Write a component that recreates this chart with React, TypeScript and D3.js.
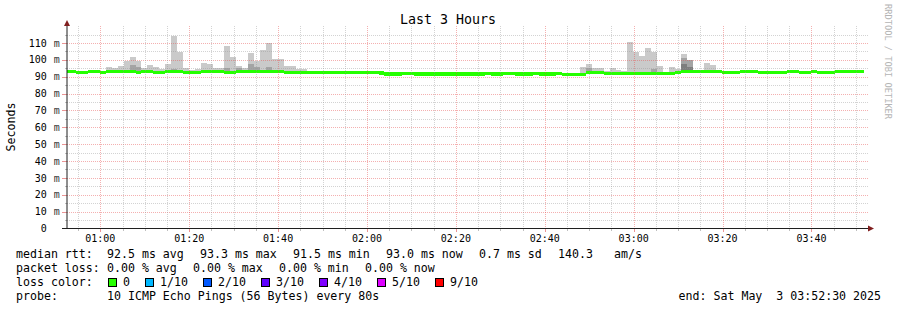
import React from "react";
import * as d3 from "d3";

// ---------- data ----------
const chartTitle = "Last 3 Hours";
const yAxisTitle = "Seconds";
const watermark = "RRDTOOL / TOBI OETIKER";
const startTime = new Date(2025, 4, 3, 0, 52, 30);
const endTime = new Date(2025, 4, 3, 3, 52, 30);
const stepSeconds = 80;
const stepPhase = 0.43;

// median rtt (ms) per 80 s step
const medianMs: (number | null)[] = [
  93.2, 93.2, 92.7, 92.7, 93.2, 93.2, 92.7, 93.2, 93.2, 93.2,
  93.2, 93.2, 92.7, 93.2, 93.2, 92.7, 92.7, 93.2, 93.2, 93.2,
  92.7, 92.7, 92.7, 93.2, 93.2, 93.2, 93.2, 92.7, 92.7, 93.2,
  93.2, 93.2, 93.2, 93.2, 93.2, 93.2, 93.2, 92.7, 92.7, 92.7,
  92.7, 92.7, 92.7, 92.7, 92.7, 92.7, 92.7, 92.7, 92.7, 92.7,
  92.7, 92.7, 92.7, 92.2, 91.6, 91.6, 91.6, 91.9, 91.9, 91.6,
  91.6, 91.6, 91.6, 91.6, 91.6, 91.6, 91.6, 91.6, 91.6, 91.6,
  91.6, 91.9, 91.6, 91.6, 91.9, 91.9, 91.6, 91.6, 91.6, 91.9,
  91.6, 91.6, 91.6, 91.9, 91.5, 91.5, 91.5, 91.5, 92.3, 92.3,
  92.3, 91.7, 91.7, 91.7, 91.7, 91.7, 91.7, 91.7, 91.7, 91.7,
  91.7, 91.7, 91.7, 92.5, 93.2, 93.2, 93.2, 93.2, 93.2, 93.2,
  93.2, 92.7, 92.7, 92.7, 93.2, 93.2, 93.2, 92.7, 92.7, 92.7,
  92.7, 92.7, 93.2, 93.2, 92.7, 92.7, 93.2, 92.7, 92.7, 92.7,
  93.2, 93.0, 93.0, 93.0, 93.0, null,
];

// highest ping per step (outer smoke), ms
const smokeMaxMs: (number | null)[] = [
  93.9, 93.9, 93.4, 93.4, 93.9, 93.9, 93.4, 95.6, 95.0, 96.4,
  99.3, 101.6, 99.3, 95.2, 97.0, 95.8, 94.6, 97.6, 113.9, 104.7,
  95.2, 94.2, 94.4, 98.2, 97.6, 95.2, 95.2, 108.1, 101.7, 96.4,
  95.2, 104.1, 99.2, 106.1, 110.0, 100.2, 100.2, 96.4, 96.4, 94.8,
  94.4, 93.4, 93.4, 93.4, 93.4, 93.4, 93.4, 93.4, 93.4, 93.4,
  93.4, 93.4, 93.4, 92.9, 92.3, 92.3, 92.3, 92.3, 92.3, 92.3,
  92.3, 92.3, 92.3, 92.3, 92.3, 92.3, 92.3, 92.3, 92.3, 92.3,
  92.3, 92.3, 92.3, 92.3, 92.3, 92.3, 92.3, 92.3, 92.3, 92.3,
  92.3, 92.3, 92.3, 92.3, 92.3, 92.3, 92.3, 95.6, 97.4, 95.0,
  95.0, 93.5, 95.0, 94.1, 93.3, 110.4, 104.6, 102.1, 106.9, 104.6,
  96.2, 93.0, 95.6, 94.6, 103.5, 99.8, 93.9, 93.9, 98.0, 96.8,
  93.9, 93.4, 93.4, 93.4, 93.4, 93.4, 93.4, 93.4, 93.4, 93.4,
  93.4, 93.4, 93.4, 93.4, 93.4, 93.4, 93.4, 93.4, 93.4, 93.4,
  93.4, 93.4, 93.4, 93.4, 93.4, null,
];

// inner smoke layers (only steps where they show above the median band)
const smokeMidSteps = [11, 12, 18, 27, 29, 31, 32, 34, 88, 99, 104, 105];
const smokeMidMs = [96.8, 95.6, 94.6, 95.0, 95.0, 97.4, 95.6, 95.6, 95.2, 94.6, 100.9, 99.8];
const smokeDarkSteps = [104, 105];
const smokeDarkMs = [97.4, 95.5];

const yTickValues = [0, 10, 20, 30, 40, 50, 60, 70, 80, 90, 100, 110];
const xTickLabels = ["01:00", "01:20", "01:40", "02:00", "02:20", "02:40", "03:00", "03:20", "03:40"];

const medianStats = ["92.5 ms avg", "93.3 ms max", "91.5 ms min", "93.0 ms now", "0.7 ms sd", "140.3", "am/s"];
const lossStats = ["0.00 % avg", "0.00 % max", "0.00 % min", "0.00 % now"];
const lossLabels = ["0", "1/10", "2/10", "3/10", "4/10", "5/10", "9/10"];
const lossColors = ["#26ff00", "#00b8ff", "#0059ff", "#5e00ff", "#7e00ff", "#dd00ff", "#ff0000"];
const probeText = "10 ICMP Echo Pings (56 Bytes) every 80s";
const endText = "end: Sat May  3 03:52:30 2025";

// ---------- layout ----------
const W = 897;
const H = 310;
const PX0 = 67;
const PX1 = 867;
const PY0 = 228.5;
const PYT = 26.1;
const MONO = "'DejaVu Sans Mono', monospace";
const medianStatX = [107, 200, 293, 386, 479, 558, 614];
const lossStatX = [107, 193, 279, 365];
const lossBoxX = [108.5, 145.5, 203.5, 261.5, 319.5, 377.5, 435.5];
const lossLabelX = [123, 160, 218, 276, 334, 392, 450];

type P = { t: Date; lo: number; hi: number; ok: boolean };

export default function App() {
  const x = d3.scaleTime().domain([startTime, endTime]).range([PX0, PX1]);
  const y = d3.scaleLinear().domain([0, 120]).range([PY0, PYT]);

  const stepTime = (k: number) => {
    const t = new Date(startTime.getTime() + (k - stepPhase) * stepSeconds * 1000);
    return t < startTime ? startTime : t > endTime ? endTime : t;
  };

  const buildPoints = (lo: (i: number) => number | null, hi: (i: number) => number | null): P[] => {
    const pts: P[] = [];
    medianMs.forEach((_, i) => {
      const l = lo(i);
      const h = hi(i);
      const ok = l != null && h != null;
      pts.push({ t: stepTime(i), lo: l ?? 0, hi: h ?? 0, ok });
      pts.push({ t: stepTime(i + 1), lo: l ?? 0, hi: h ?? 0, ok });
    });
    return pts;
  };

  const area = d3
    .area<P>()
    .defined((p) => p.ok)
    .x((p) => x(p.t))
    .y0((p) => y(p.lo))
    .y1((p) => y(p.hi));

  const lower = (i: number) => (medianMs[i] == null ? null : (medianMs[i] as number) - 0.9);
  const sparse = (steps: number[], vals: number[]) => (i: number) => {
    const k = steps.indexOf(i);
    return k < 0 ? null : vals[k];
  };

  const smokeOuter = area(buildPoints(lower, (i) => smokeMaxMs[i])) || "";
  const smokeMid = area(buildPoints(lower, sparse(smokeMidSteps, smokeMidMs))) || "";
  const smokeDark = area(buildPoints(lower, sparse(smokeDarkSteps, smokeDarkMs))) || "";
  const medianBand =
    area(
      buildPoints(
        (i) => (medianMs[i] == null ? null : (medianMs[i] as number) - 0.95),
        (i) => (medianMs[i] == null ? null : (medianMs[i] as number) + 0.95)
      )
    ) || "";

  const minorTimes = d3.timeMinute
    .every(5)!
    .range(startTime, endTime)
    .filter((t) => t.getMinutes() % 20 !== 0);
  const majorTimes = xTickLabels.map((s) => {
    const [hh, mm] = s.split(":").map(Number);
    return new Date(2025, 4, 3, hh, mm, 0);
  });
  const minorY = d3.range(5, 120, 10);
  const majorY = yTickValues.filter((v) => v > 0);

  const gridCol = "rgba(150,150,150,0.42)";
  const mgridCol = "rgba(230,80,80,0.45)";
  const tickCol = "rgba(150,150,150,0.6)";
  const mtickCol = "rgba(222,79,79,0.6)";
  const snap = (v: number) => Math.round(v) + 0.5;
  const pre = { whiteSpace: "pre" as const };

  return (
    <div style={{ position: "absolute", left: 0, top: 0 }}>
      <svg width={W} height={H} viewBox={`0 0 ${W} ${H}`} style={{ display: "block", background: "#ffffff" }}>
        <rect x={0} y={0} width={W} height={H} fill="#ffffff" />

        {/* smoke & median */}
        <path d={smokeOuter} fill="#cacaca" shapeRendering="crispEdges" />
        <path d={smokeMid} fill="#a4a4a4" shapeRendering="crispEdges" />
        <path d={smokeDark} fill="#7e7e7e" shapeRendering="crispEdges" />
        <path d={medianBand} fill={lossColors[0]} shapeRendering="crispEdges" />

        {/* grid */}
        <g shapeRendering="crispEdges" strokeWidth={1}>
          {minorY.map((v) => (
            <line key={"hy" + v} x1={PX0} x2={PX1 + 1} y1={snap(y(v))} y2={snap(y(v))} stroke={gridCol} strokeDasharray="1,1" />
          ))}
          {majorY.map((v) => (
            <line key={"hY" + v} x1={PX0} x2={PX1 + 1} y1={snap(y(v))} y2={snap(y(v))} stroke={mgridCol} strokeDasharray="1,1" />
          ))}
          {minorTimes.map((t) => (
            <line key={"vx" + t.getTime()} x1={snap(x(t))} x2={snap(x(t))} y1={PYT} y2={PY0} stroke={gridCol} strokeDasharray="1,1" />
          ))}
          {majorTimes.map((t) => (
            <line key={"vX" + t.getTime()} x1={snap(x(t))} x2={snap(x(t))} y1={PYT} y2={PY0} stroke={mgridCol} strokeDasharray="1,1" />
          ))}
          {/* ticks */}
          {minorY.map((v) => (
            <line key={"ty" + v} x1={PX0 - 2} x2={PX0} y1={snap(y(v))} y2={snap(y(v))} stroke={tickCol} />
          ))}
          {majorY.map((v) => (
            <line key={"tY" + v} x1={PX0 - 5} x2={PX0} y1={snap(y(v))} y2={snap(y(v))} stroke={mtickCol} />
          ))}
          {minorTimes.map((t) => (
            <line key={"tx" + t.getTime()} x1={snap(x(t))} x2={snap(x(t))} y1={PY0} y2={PY0 + 2} stroke={tickCol} />
          ))}
          {majorTimes.map((t) => (
            <line key={"tX" + t.getTime()} x1={snap(x(t))} x2={snap(x(t))} y1={PY0} y2={PY0 + 3} stroke={mtickCol} />
          ))}
        </g>

        {/* axes */}
        <line x1={PX0 - 5} x2={PX1 + 2} y1={PY0} y2={PY0} stroke="#1f1f1f" strokeWidth={1} />
        <path d={`M${PX1 + 7},${PY0} L${PX1 + 1},${PY0 - 3} L${PX1 + 1},${PY0 + 3} Z`} fill="#801f1f" />
        <line x1={PX0} x2={PX0} y1={PY0 + 0.5} y2={PYT - 1} stroke="#1f1f1f" strokeWidth={1} />
        <path d={`M${PX0},${PYT - 6} L${PX0 - 3},${PYT} L${PX0 + 3},${PYT} Z`} fill="#801f1f" />

        {/* tick labels */}
        <g fontFamily={MONO} fontSize={10} fill="#000">
          {yTickValues.map((v) => (
            <g key={"yl" + v}>
              <text x={46.8} y={y(v) + 3.6} textAnchor="end">
                {String(v)}
              </text>
              {v > 0 && (
                <text x={53.8} y={y(v) + 3.6} fill="#333">
                  m
                </text>
              )}
            </g>
          ))}
          {majorTimes.map((t, i) => (
            <text key={"xl" + i} x={x(t)} y={241.5} textAnchor="middle">
              {xTickLabels[i]}
            </text>
          ))}
        </g>

        {/* titles */}
        <text x={448} y={24} textAnchor="middle" fontFamily={MONO} fontSize={13.3} fill="#000">
          {chartTitle}
        </text>
        <text transform="translate(14.5,127) rotate(-90)" textAnchor="middle" fontFamily={MONO} fontSize={11.6} fill="#000">
          {yAxisTitle}
        </text>
        <text transform="translate(885,4) rotate(90)" fontFamily={MONO} fontSize={8.7} fill="#b4b4b4">
          {watermark}
        </text>

        {/* legend */}
        <g fontFamily={MONO} fontSize={11.6} fill="#000">
          <text x={16} y={258.3} style={pre}>median rtt:</text>
          {medianStats.map((s, i) => (
            <text key={"ms" + i} x={medianStatX[i]} y={258.3} style={pre}>
              {s}
            </text>
          ))}
          <text x={16} y={272.3} style={pre}>packet loss:</text>
          {lossStats.map((s, i) => (
            <text key={"ls" + i} x={lossStatX[i]} y={272.3} style={pre}>
              {s}
            </text>
          ))}
          <text x={16} y={286.3} style={pre}>loss color:</text>
          {lossLabels.map((s, i) => (
            <g key={"lc" + i}>
              <rect x={lossBoxX[i]} y={278.5} width={8} height={8} fill={lossColors[i]} stroke="#000" strokeWidth={1} shapeRendering="crispEdges" />
              <text x={lossLabelX[i]} y={286.3} style={pre}>
                {s}
              </text>
            </g>
          ))}
          <text x={16} y={300.3} style={pre}>probe:</text>
          <text x={107} y={300.3} style={pre}>{probeText}</text>
          <text x={881} y={300.3} textAnchor="end" style={pre}>
            {endText}
          </text>
        </g>
      </svg>
    </div>
  );
}
